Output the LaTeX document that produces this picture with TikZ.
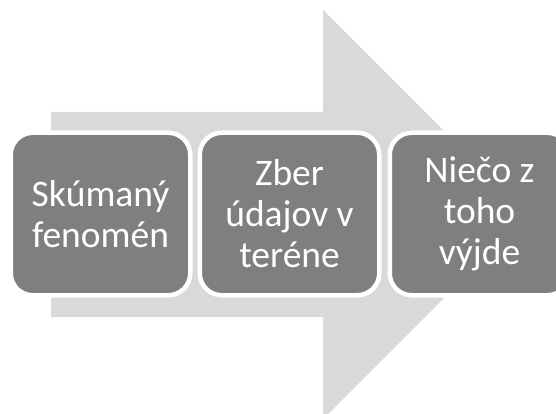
\documentclass[tikz,border=0pt]{standalone}
\usepackage{fontspec}
\setmainfont{Carlito}
\definecolor{flowgray}{HTML}{D9D9D9}
\definecolor{stagegray}{HTML}{7F7F7F}
\tikzset{
  stage/.style={draw=white, line width=4.5pt, fill=stagegray, rounded corners=22pt,
    minimum width=179.5pt, minimum height=162.5pt, text=white, align=center,
    font=\fontsize{37.5}{41}\selectfont}
}
\begin{document}
\begin{tikzpicture}[x=1pt, y=-1pt]
\useasboundingbox (0, 0) rectangle (556, 414);
\fill[flowgray] (51, 112) -- (323, 112) -- (323, 10) -- (527.5, 214.5)
  -- (323, 419) -- (323, 317) -- (51, 317) -- cycle;
\node[stage] (phenom) at (100.5, 214) {Skúmaný\\fenomén};
\node[stage] (field) at (289.5, 214) {Zber\\údajov v\\teréne};
\node[stage] (result) at (479.5, 214) {Niečo z\\toho\\výjde};
\end{tikzpicture}
\end{document}
